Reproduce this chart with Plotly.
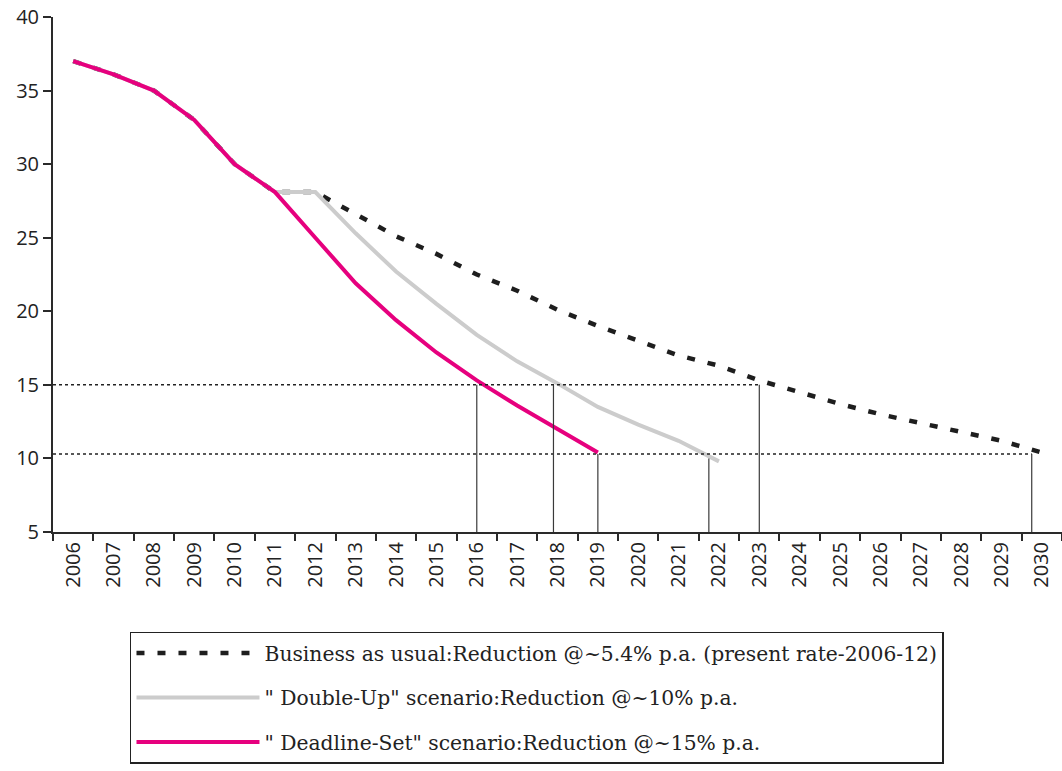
import plotly.graph_objects as go

years = [str(y) for y in range(2006, 2031)]

bau_values = [37.0, 36.1, 35.0, 33.0, 30.0, 28.1, 28.1, 26.6, 25.1, 23.9, 22.5, 21.4,
              20.1, 19.0, 18.0, 17.0, 16.3, 15.3, 14.5, 13.7, 13.0, 12.4, 11.8, 11.2, 10.4]
double_up_values = [37.0, 36.1, 35.0, 33.0, 30.0, 28.1, 28.1, 25.3, 22.7, 20.5, 18.4, 16.6,
                    15.1, 13.5, 12.3, 11.2, 9.8]
deadline_values = [37.0, 36.1, 35.0, 33.0, 30.0, 28.1, 25.0, 21.9, 19.4, 17.2, 15.3, 13.6,
                   12.0, 10.4]

series_names = [
    "Business as usual:Reduction @~5.4% p.a. (present rate-2006-12)",
    "\" Double-Up\" scenario:Reduction @~10% p.a.",
    "\" Deadline-Set\" scenario:Reduction @~15% p.a.",
]

# target reference levels and where they meet the curves (category index positions)
ref_levels = [15.0, 10.3]
ref_level_ends = [17.0, 23.75]
cross_x = [10.0, 11.9, 13.0, 15.75, 17.0, 23.75]
cross_top = [15.0, 15.0, 10.3, 10.0, 15.0, 10.3]

y_ticks = [5, 10, 15, 20, 25, 30, 35, 40]

AXIS_COLOR = "#2a2a2a"
TEXT_COLOR = "#222222"

fig = go.Figure()
fig.add_trace(go.Scatter(
    x=years[:len(bau_values)], y=bau_values, mode="lines", name=series_names[0],
    line=dict(color="#1e1e1e", width=4.5, dash="8px,13px"), legendgroup="a"))
fig.add_trace(go.Scatter(
    x=years[:len(double_up_values)], y=double_up_values, mode="lines", name=series_names[1],
    line=dict(color="#cccccc", width=4), legendgroup="b"))
fig.add_trace(go.Scatter(
    x=years[:len(deadline_values)], y=deadline_values, mode="lines", name=series_names[2],
    line=dict(color="#e6007e", width=4), legendgroup="c"))

shapes = []
for lvl, xe in zip(ref_levels, ref_level_ends):
    shapes.append(dict(type="line", xref="x", yref="y", x0=-0.5, x1=xe, y0=lvl, y1=lvl,
                       line=dict(color="#222222", width=1.5, dash="dot"), layer="above"))
for xv, yt in zip(cross_x, cross_top):
    shapes.append(dict(type="line", xref="x", yref="y", x0=xv, x1=xv, y0=5, y1=yt,
                       line=dict(color="#3a3a3a", width=1.2), layer="above"))

fig.update_layout(
    width=1062, height=771,
    margin=dict(l=53, r=0, t=17, b=239),
    paper_bgcolor="white", plot_bgcolor="white",
    font=dict(family="Open Sans", size=20, color=TEXT_COLOR),
    shapes=shapes,
    showlegend=True,
    legend=dict(
        x=0.0763, y=-0.194, xanchor="left", yanchor="top",
        bordercolor="#222222", borderwidth=1.5,
        font=dict(family="DejaVu Serif", size=20.3, color=TEXT_COLOR),
        itemwidth=123, tracegroupgap=15, traceorder="grouped",
    ),
    xaxis=dict(
        type="category", categoryorder="array", categoryarray=years,
        range=[-0.5, 24.5], showgrid=False, zeroline=False,
        showline=True, linecolor=AXIS_COLOR, linewidth=2,
        ticks="outside", ticklen=7, tickwidth=2, tickcolor=AXIS_COLOR,
        tickson="boundaries", tickangle=-90,
        tickfont=dict(family="Open Sans", size=20, color=TEXT_COLOR),
    ),
    yaxis=dict(
        range=[5, 40], tickvals=y_ticks, showgrid=False, zeroline=False,
        showline=True, linecolor=AXIS_COLOR, linewidth=2,
        ticks="outside", ticklen=8, tickwidth=2, tickcolor=AXIS_COLOR,
        tickfont=dict(family="Open Sans", size=20, color=TEXT_COLOR),
    ),
)

fig.write_html(
    "out.html",
    config={"displayModeBar": False},
    post_script="document.body.style.margin='0';document.body.style.overflow='hidden';",
)
